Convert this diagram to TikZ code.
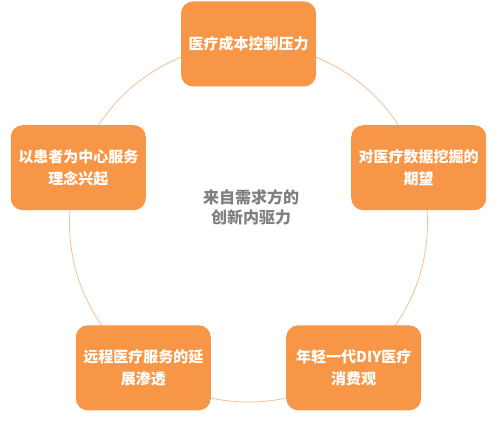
\documentclass[tikz,border=0pt]{standalone}
\usepackage{fontspec}
\setmainfont{Noto Sans CJK SC}
\usepackage{tikz}
\usepackage{xcolor}
\usetikzlibrary{calc}
\definecolor{boxorange}{HTML}{F79646}
\definecolor{ringorange}{HTML}{F6BE94}
\definecolor{midgray}{HTML}{7F7F7F}

\begin{document}
\begin{tikzpicture}[x=1pt,y=1pt,
  drive/.style={fill=boxorange, rounded corners=12pt, minimum width=135pt, minimum height=85pt,
    text=white, align=center, font=\fontsize{15}{22}\selectfont\bfseries, inner sep=2pt}]
\useasboundingbox (0,0) rectangle (500,425);
\coordinate (mid) at (248.5,202);
\draw[ringorange, line width=0.8pt] (mid) circle (179);
\node[text=midgray, align=center, font=\fontsize{16}{20}\selectfont\bfseries] (core) at (251,218) {来自需求方的\\创新内驱力};
\node[drive] (cost) at ($(mid)+(90:179)$) {医疗成本控制压力};
\node[drive] (data) at ($(mid)+(18:179)$) {对医疗数据挖掘的\\期望};
\node[drive] (diy) at ($(mid)+(306:179)$) {年轻一代DIY医疗\\消费观};
\node[drive] (remote) at ($(mid)+(234:179)$) {远程医疗服务的延\\展渗透};
\node[drive] (patient) at ($(mid)+(162:179)$) {以患者为中心服务\\理念兴起};
\end{tikzpicture}
\end{document}
